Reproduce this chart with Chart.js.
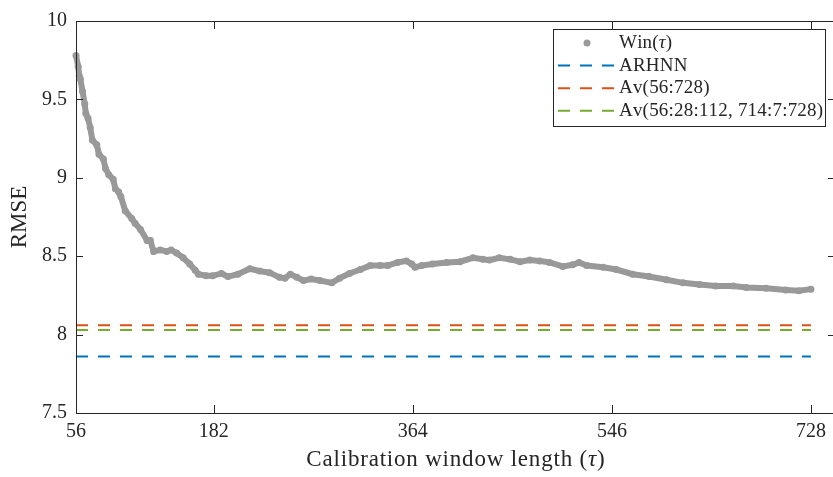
<!DOCTYPE html>
<html>
<head>
<meta charset="utf-8">
<script src="https://cdn.jsdelivr.net/npm/chart.js@4/dist/chart.umd.min.js"></script>
<style>
  html, body { margin: 0; padding: 0; background: #fff; overflow: hidden; }
  #wrap { width: 840px; height: 477px; position: relative; }
</style>
</head>
<body>
<div id="wrap"><canvas id="rmseChart"></canvas></div>
<script>
(function () {
    "use strict";

    // Win(tau): RMSE for each calibration window length
    const winLength = [56, 58, 59, 60, 62, 64, 65, 67, 69, 71, 75, 77, 81, 83, 86, 90, 92, 95, 97, 101,
        107, 110, 115, 121, 124, 127, 133, 139, 143, 148, 154, 160, 165, 168, 175, 181, 189, 195, 204, 215,
        224, 233, 242, 247, 252, 258, 264, 271, 279, 290, 297, 306, 316, 325, 334, 341, 350, 358, 363, 366,
        372, 382, 395, 407, 419, 428, 434, 443, 453, 462, 471, 480, 489, 501, 510, 516, 523, 538, 550, 565,
        580, 596, 611, 626, 641, 657, 669, 687, 705, 717, 728];
    const winRmse = [9.78, 9.71, 9.65, 9.63, 9.55, 9.47, 9.41, 9.38, 9.32, 9.24, 9.21, 9.15, 9.12, 9.06, 9.02, 8.99, 8.93, 8.91, 8.88, 8.79,
        8.74, 8.71, 8.67, 8.60, 8.60, 8.53, 8.54, 8.53, 8.54, 8.52, 8.49, 8.45, 8.41, 8.385, 8.375, 8.375, 8.39, 8.37, 8.385, 8.42,
        8.405, 8.395, 8.365, 8.36, 8.385, 8.365, 8.345, 8.355, 8.345, 8.33, 8.36, 8.39, 8.415, 8.44, 8.44, 8.44, 8.46, 8.47, 8.45, 8.43,
        8.44, 8.45, 8.46, 8.465, 8.49, 8.48, 8.475, 8.49, 8.48, 8.465, 8.475, 8.47, 8.46, 8.435, 8.445, 8.46, 8.44, 8.43, 8.415, 8.385,
        8.37, 8.35, 8.33, 8.32, 8.31, 8.31, 8.30, 8.295, 8.285, 8.28, 8.29];

    // constant benchmarks
    const refLength = [56, 728];
    const arhnnRmse = 7.86;
    const avAllRmse = 8.06;
    const avSelRmse = 8.03;

    const seriesLabels = ['Win(τ)', 'ARHNN', 'Av(56:728)', 'Av(56:28:112, 714:7:728)'];
    const xTicks = [56, 182, 364, 546, 728];
    const yTicks = [7.5, 8, 8.5, 9, 9.5, 10];

    const FONT = '"Liberation Serif", "DejaVu Serif", serif';
    const AXIS = '#262626';
    const GRAY = '#999999';
    const BLUE = '#0072BD';
    const ORANGE = '#D95319';
    const GREEN = '#77AC30';

    function flat(v) {
        return refLength.map(x => ({ x: x, y: v }));
    }

    // draws a string char by char, putting any tau in italic
    function mathText(ctx, text, x, y, size, spacing) {
        let cx = x;
        for (const ch of text) {
            ctx.font = (ch === 'τ' ? 'italic ' : '') + size + 'px ' + FONT;
            ctx.fillText(ch, cx, y);
            cx += ctx.measureText(ch).width + (spacing || 0);
        }
        return cx - x;
    }

    function mathWidth(ctx, text, size, spacing) {
        let w = 0;
        for (const ch of text) {
            ctx.font = (ch === 'τ' ? 'italic ' : '') + size + 'px ' + FONT;
            w += ctx.measureText(ch).width + (spacing || 0);
        }
        return w - (spacing || 0);
    }

    // box, inward ticks, x title and legend in the MATLAB style
    const framePlugin = {
        id: 'frame',
        afterDraw(chart) {
            const { ctx, chartArea: a, scales: { x, y } } = chart;
            ctx.save();
            ctx.strokeStyle = AXIS;
            ctx.lineWidth = 1;
            ctx.beginPath();
            ctx.rect(Math.round(a.left) + 0.5, Math.round(a.top) + 0.5,
                Math.round(a.right - a.left), Math.round(a.bottom - a.top));
            x.ticks.forEach(t => {
                const px = Math.round(x.getPixelForValue(t.value)) + 0.5;
                ctx.moveTo(px, a.bottom); ctx.lineTo(px, a.bottom - 8);
                ctx.moveTo(px, a.top); ctx.lineTo(px, a.top + 8);
            });
            y.ticks.forEach(t => {
                const py = Math.round(y.getPixelForValue(t.value)) + 0.5;
                ctx.moveTo(a.left, py); ctx.lineTo(a.left + 7, py);
                ctx.moveTo(a.right, py); ctx.lineTo(a.right - 7, py);
            });
            ctx.stroke();

            // x axis title
            ctx.fillStyle = AXIS;
            ctx.textBaseline = 'middle';
            ctx.textAlign = 'left';
            const title = 'Calibration window length (τ)';
            const tw = mathWidth(ctx, title, 23, 0.8);
            mathText(ctx, title, (a.left + a.right) / 2 - tw / 2, 460, 23, 0.8);

            // legend
            const lx = 553, ly = 29, lw = 272, lh = 97;
            ctx.fillStyle = '#fff';
            ctx.fillRect(lx, ly, lw, lh);
            ctx.strokeStyle = AXIS;
            ctx.strokeRect(lx + 0.5, ly + 0.5, lw, lh);
            chart.data.datasets.forEach((ds, i) => {
                const ry = 43 + i * 22.6;
                if (i === 0) {
                    ctx.fillStyle = ds.pointBackgroundColor;
                    ctx.beginPath();
                    ctx.arc(587, ry, 3.5, 0, Math.PI * 2);
                    ctx.fill();
                } else {
                    ctx.strokeStyle = ds.borderColor;
                    ctx.lineWidth = 2;
                    ctx.setLineDash(ds.borderDash);
                    ctx.beginPath();
                    ctx.moveTo(558, ry);
                    ctx.lineTo(616, ry);
                    ctx.stroke();
                    ctx.setLineDash([]);
                }
                ctx.fillStyle = AXIS;
                mathText(ctx, ds.label, 619, ry, 19, 0.2);
            });
            ctx.restore();
        }
    };

    const ctx = document.getElementById('rmseChart').getContext('2d');
    new Chart(ctx, {
        type: 'scatter',
        data: {
            datasets: [
                {
                    label: seriesLabels[0],
                    data: winLength.map((w, i) => ({ x: w, y: winRmse[i] })),
                    showLine: true,
                    borderColor: GRAY,
                    borderWidth: 6,
                    pointRadius: 3.5,
                    pointBackgroundColor: GRAY,
                    pointBorderWidth: 0,
                    clip: 8
                }, {
                    label: seriesLabels[1],
                    data: flat(arhnnRmse),
                    showLine: true,
                    borderColor: BLUE,
                    borderWidth: 2,
                    borderDash: [12, 10],
                    pointRadius: 0
                }, {
                    label: seriesLabels[2],
                    data: flat(avAllRmse),
                    showLine: true,
                    borderColor: ORANGE,
                    borderWidth: 2,
                    borderDash: [12, 10],
                    pointRadius: 0
                }, {
                    label: seriesLabels[3],
                    data: flat(avSelRmse),
                    showLine: true,
                    borderColor: GREEN,
                    borderWidth: 2,
                    borderDash: [12, 10],
                    pointRadius: 0
                }
            ]
        },
        options: {
            responsive: true,
            maintainAspectRatio: false,
            animation: false,
            devicePixelRatio: 1,
            layout: { padding: { top: 14, right: 5, left: 0, bottom: 0 } },
            plugins: { legend: { display: false }, tooltip: { enabled: false } },
            scales: {
                x: {
                    type: 'linear',
                    min: 56,
                    max: 750,
                    afterBuildTicks: s => { s.ticks = xTicks.map(v => ({ value: v })); },
                    afterFit: s => { s.height = 64; },
                    grid: { display: false, drawTicks: false },
                    border: { display: false },
                    ticks: {
                        autoSkip: false,
                        maxRotation: 0,
                        padding: 7,
                        color: AXIS,
                        font: { family: FONT, size: 20 },
                        callback: v => String(v)
                    }
                },
                y: {
                    min: 7.5,
                    max: 10,
                    afterBuildTicks: s => { s.ticks = yTicks.map(v => ({ value: v })); },
                    afterFit: s => { s.width = 76; },
                    grid: { display: false, drawTicks: false },
                    border: { display: false },
                    ticks: {
                        padding: 9,
                        color: AXIS,
                        font: { family: FONT, size: 20 },
                        callback: v => String(v)
                    },
                    title: {
                        display: true,
                        text: 'RMSE',
                        color: AXIS,
                        font: { family: FONT, size: 23 },
                        padding: { top: 6, bottom: 0 }
                    }
                }
            }
        },
        plugins: [framePlugin]
    });
})();
</script>
</body>
</html>
